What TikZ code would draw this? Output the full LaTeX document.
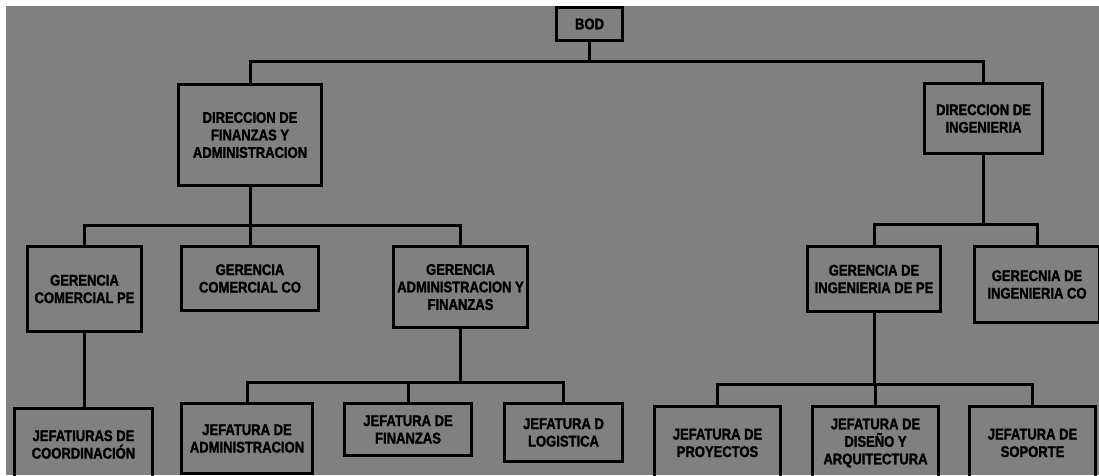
\documentclass[tikz,border=0pt]{standalone}
\usepackage{fontspec}
\newfontfamily\orgfont{Liberation Sans}[UprightFont=* Bold, FakeStretch=0.84, FakeBold=1.6]
\definecolor{bggray}{RGB}{128,128,128}

\begin{document}
\begin{tikzpicture}[x=1pt,y=-1pt,
   org/.style={draw, line width=3pt, align=center, inner sep=0pt,
      font=\orgfont\fontsize{15.5}{17.5}\selectfont},
   link/.style={line width=3pt}]

\fill[white] (0,0) rectangle (1099,475);
\fill[bggray] (6,6) rectangle (1099,475);
\useasboundingbox (0,0) rectangle (1099,475);
\clip (0,0) rectangle (1099,475);

\node[org, minimum width=66pt, minimum height=33pt] (bod) at (589.5,24) {BOD};

\node[org, minimum width=143pt, minimum height=101pt] (dirfin) at (250,135)
   {DIRECCION DE\\FINANZAS Y\\ADMINISTRACION};
\node[org, minimum width=118pt, minimum height=70pt] (diring) at (983.5,118.5)
   {DIRECCION DE\\INGENIERIA};

\node[org, minimum width=114pt, minimum height=85pt] (gcompe) at (84.5,289)
   {GERENCIA\\COMERCIAL PE};
\node[org, minimum width=137pt, minimum height=64pt] (gcomco) at (250,278.5)
   {GERENCIA\\COMERCIAL CO};
\node[org, minimum width=134pt, minimum height=81pt] (gadmfin) at (460.5,287)
   {GERENCIA\\ADMINISTRACION Y\\FINANZAS};
\node[org, minimum width=133pt, minimum height=65pt] (gingpe) at (874,279)
   {GERENCIA DE\\INGENIERIA DE PE};
\node[org, minimum width=125pt, minimum height=76pt] (gingco) at (1037,284.5)
   {GERECNIA DE\\INGENIERIA CO};

\node[org, minimum width=138pt, minimum height=72pt] (jcoord) at (83.5,444.5)
   {JEFATIURAS DE\\COORDINACIÓN};
\node[org, minimum width=131pt, minimum height=70pt] (jadm) at (247,438.5)
   {JEFATURA DE\\ADMINISTRACION};
\node[org, minimum width=127pt, minimum height=52pt] (jfin) at (408,429.5)
   {JEFATURA DE\\FINANZAS};
\node[org, minimum width=118pt, minimum height=58pt] (jlog) at (563.5,432.5)
   {JEFATURA D\\LOGISTICA};
\node[org, minimum width=126pt, minimum height=73pt] (jproy) at (717.5,443)
   {JEFATURA DE\\PROYECTOS};
\node[org, minimum width=126pt, minimum height=73pt] (jdis) at (875.5,443)
   {JEFATURA DE\\DISEÑO Y\\ARQUITECTURA};
\node[org, minimum width=126pt, minimum height=73pt] (jsop) at (1032.5,443)
   {JEFATURA DE\\SOPORTE};

\coordinate (b0) at (589.5,61);
\coordinate (b1) at (250,225);
\coordinate (b2) at (983.5,224);
\coordinate (b3) at (460.5,382);
\coordinate (b4) at (874,384);

\draw[link] (bod.south) -- (b0) -| (dirfin.north);
\draw[link] (b0) -| (diring.north);

\draw[link] (dirfin.south) -- (b1) -| (gcompe.north);
\draw[link] (b1) -- (gcomco.north);
\draw[link] (b1) -| (gadmfin.north);

\draw[link] (diring.south) -- (b2) -| (gingpe.north);
\draw[link] (b2) -| (gingco.north);

\draw[link] (gcompe.south) -- (gcompe.south |- jcoord.north);

\draw[link] (gadmfin.south) -- (b3) -| (jadm.north);
\draw[link] (b3) -| (jfin.north);
\draw[link] (b3) -| (jlog.north);

\draw[link] (gingpe.south) -- (b4) -| (jproy.north);
\draw[link] (b4) -| (jdis.north);
\draw[link] (b4) -| (jsop.north);

\end{tikzpicture}
\end{document}
